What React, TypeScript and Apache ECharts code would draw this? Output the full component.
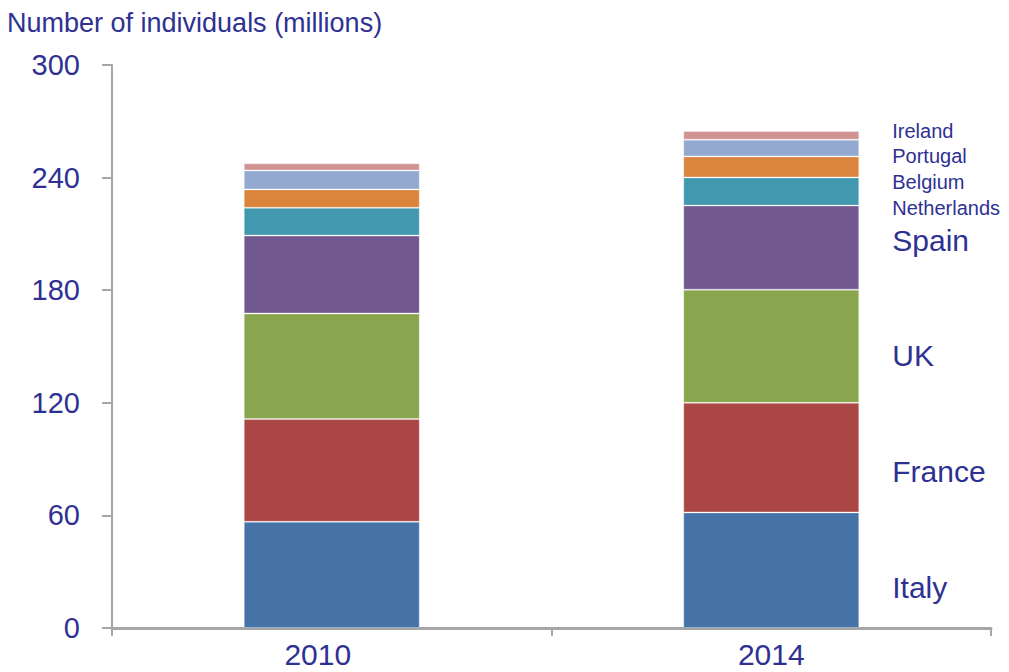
import React, { useEffect, useRef } from "react";
import * as echarts from "echarts";

const years = ["2010", "2014"];
const countries = ["Italy", "France", "UK", "Spain", "Netherlands", "Belgium", "Portugal", "Ireland"];
const italy = [56.6, 61.6];
const france = [54.8, 58.4];
const uk = [56.2, 60.3];
const spain = [41.5, 44.8];
const netherlands = [14.8, 15.0];
const belgium = [9.8, 11.2];
const portugal = [10.1, 8.9];
const ireland = [3.8, 4.6];
const yTicks = [0, 60, 120, 180, 240, 300];

const values = [italy, france, uk, spain, netherlands, belgium, portugal, ireland];
const colors = ["#4573A7", "#AA4643", "#89A54E", "#71588F", "#4198AF", "#DB843D", "#93A9CF", "#D19392"];
const labelSizes = [30, 30, 30, 30, 20, 20, 20, 20];
const labelOffsets = [17, 14, 9, -7, 17, 15, 8, -4];

const FONT = "Arial, 'Liberation Sans', sans-serif";
const TEXT = "#2E3192";

export default function App() {
  const ref = useRef<HTMLDivElement>(null);
  useEffect(() => {
    const chart = echarts.init(ref.current!, undefined, { renderer: "svg" });
    chart.setOption({
      animation: false,
      backgroundColor: "#ffffff",
      title: {
        text: "Number of individuals (millions)",
        left: 2,
        top: 4,
        textStyle: { color: TEXT, fontSize: 27, fontWeight: "normal", fontFamily: FONT },
      },
      grid: { left: 112, right: 18, top: 65, bottom: 44 },
      xAxis: {
        type: "category",
        data: years,
        boundaryGap: true,
        axisLine: { show: true, lineStyle: { color: "#A6A6A6", width: 3 } },
        axisTick: { show: true, length: 8, alignWithLabel: false, lineStyle: { color: "#A6A6A6", width: 2 } },
        axisLabel: {
          color: TEXT,
          fontSize: 30,
          fontFamily: FONT,
          margin: 10,
          formatter: (v: string) => (v === years[0] ? "{l|" + v + "}" : "{n|" + v + "}"),
          rich: {
            l: { fontSize: 30, lineHeight: 32, fontFamily: FONT, color: TEXT, padding: [0, 28, 0, 0] },
            n: { fontSize: 30, lineHeight: 32, fontFamily: FONT, color: TEXT },
          },
        },
      },
      yAxis: {
        type: "value",
        min: yTicks[0],
        max: yTicks[yTicks.length - 1],
        interval: 60,
        axisLine: { show: true, lineStyle: { color: "#A6A6A6", width: 2 } },
        axisTick: { show: true, length: 10, inside: false, lineStyle: { color: "#A6A6A6", width: 2 } },
        splitLine: { show: false },
        axisLabel: { color: TEXT, fontSize: 29, fontFamily: FONT, margin: 32 },
      },
      series: countries.map((name, i) => ({
        name,
        type: "bar",
        stack: "total",
        barWidth: 176,
        itemStyle: { color: colors[i], borderColor: "rgba(255,255,255,0.3)", borderWidth: 1 },
        data: values[i].map((v, j) =>
          j === values[i].length - 1
            ? {
                value: v,
                label: {
                  show: true,
                  position: "right",
                  distance: 33,
                  offset: [0, labelOffsets[i]],
                  formatter: name,
                  color: TEXT,
                  fontSize: labelSizes[i],
                  fontFamily: FONT,
                },
              }
            : v
        ),
      })),
    });
    return () => chart.dispose();
  }, []);
  return (
    <div
      ref={ref}
      style={{ position: "fixed", left: 0, top: 0, width: 1009, height: 672 }}
    />
  );
}
